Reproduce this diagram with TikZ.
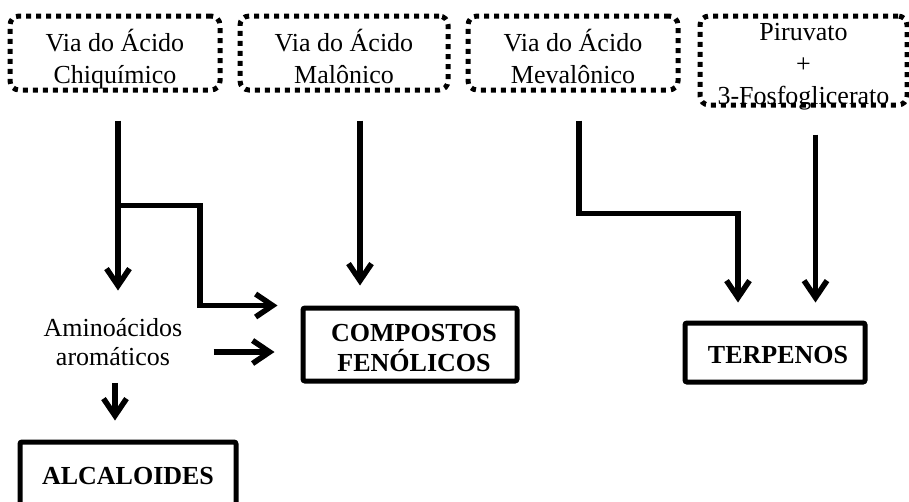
\documentclass[tikz,border=0pt]{standalone}
\usepackage{fontspec}
\setmainfont{Liberation Serif}
\usepackage{tikz}
\usetikzlibrary{arrows.meta}
\tikzset{>={Straight Barb[length=17pt,width=23pt]}}
\tikzstyle{via}=[draw,line width=5pt,dash pattern=on 5pt off 5pt,
  rounded corners=9pt,align=center,inner sep=0,
  font=\fontsize{26}{32}\selectfont]
\tikzstyle{produto}=[draw,line width=5pt,rounded corners=2pt,align=center,
  inner sep=0,font=\bfseries\fontsize{26}{30}\selectfont]
\tikzstyle{texto}=[align=center,inner sep=0,font=\fontsize{26}{29}\selectfont]
\tikzstyle{seta}=[->,line width=5.5pt]
\def\desce#1{\rule{0pt}{#1}}

\begin{document}
\begin{tikzpicture}[x=1pt,y=-1pt]
  \def\gap{28pt}
  \useasboundingbox (0,0) rectangle (909,501);

  % VIAS
  \node[via,minimum width=210pt,minimum height=74pt] (chiq) at (115,53)
    {\desce{35pt}Via do Ácido\\Chiquímico};
  \node[via,minimum width=208pt,minimum height=74pt] (malo) at (344,53)
    {\desce{29pt}Via do Ácido\\Malônico};
  \node[via,minimum width=210pt,minimum height=74pt] (meva) at (573,53)
    {\desce{29pt}Via do Ácido\\Mevalônico};
  \node[via,minimum width=207pt,minimum height=89pt,inner ysep=-8pt] (piru)
    at (803.5,60.5) {\desce{29pt}Piruvato\\+\\3-Fosfoglicerato};

  % PRODUTOS
  \node[texto] (amino) at (113,342) {Aminoácidos\\aromáticos};
  \node[produto,minimum width=214pt,minimum height=73pt] (fenol) at (410,344.5)
    {\hspace{8pt}\desce{24pt}COMPOSTOS\\\hspace{8pt}FENÓLICOS};
  \node[produto,minimum width=180pt,minimum height=59pt] (terp) at (775,352.5)
    {\hspace{6pt}\desce{22pt}TERPENOS};
  \node[produto,minimum width=216pt,minimum height=68pt] (alca) at (128,476)
    {ALCALOIDES};

  % SETAS
  \coordinate (ramo) at ([xshift=3pt,yshift=-113pt]chiq.south);
  \draw[seta,shorten <=\gap] ([xshift=3pt]chiq.south) -- ++(0,198);
  \draw[seta,shorten >=23pt] (ramo) -- ++(82,0) |- (fenol.north west);
  \draw[seta,shorten <=31pt,shorten >=26pt] ([yshift=-10pt]amino.east)
    -- ([yshift=-10pt]amino.east -| fenol.west);
  \draw[seta,shorten <=17pt,shorten >=19pt] ([xshift=2pt]amino.south)
    -- ([xshift=2pt]amino.south |- alca.north);
  \draw[seta,shorten <=\gap,shorten >=20pt] ([xshift=16pt]malo.south)
    -- ([xshift=16pt]malo.south |- fenol.north);
  \draw[seta,shorten <=\gap,shorten >=18pt] ([xshift=6pt]meva.south)
    -- ++(0,121) -| ([xshift=-37pt]terp.north);
  \draw[seta,shorten <=27pt,shorten >=18pt] ([xshift=12pt]piru.south)
    -- ([xshift=12pt]piru.south |- terp.north);

\end{tikzpicture}
\end{document}
